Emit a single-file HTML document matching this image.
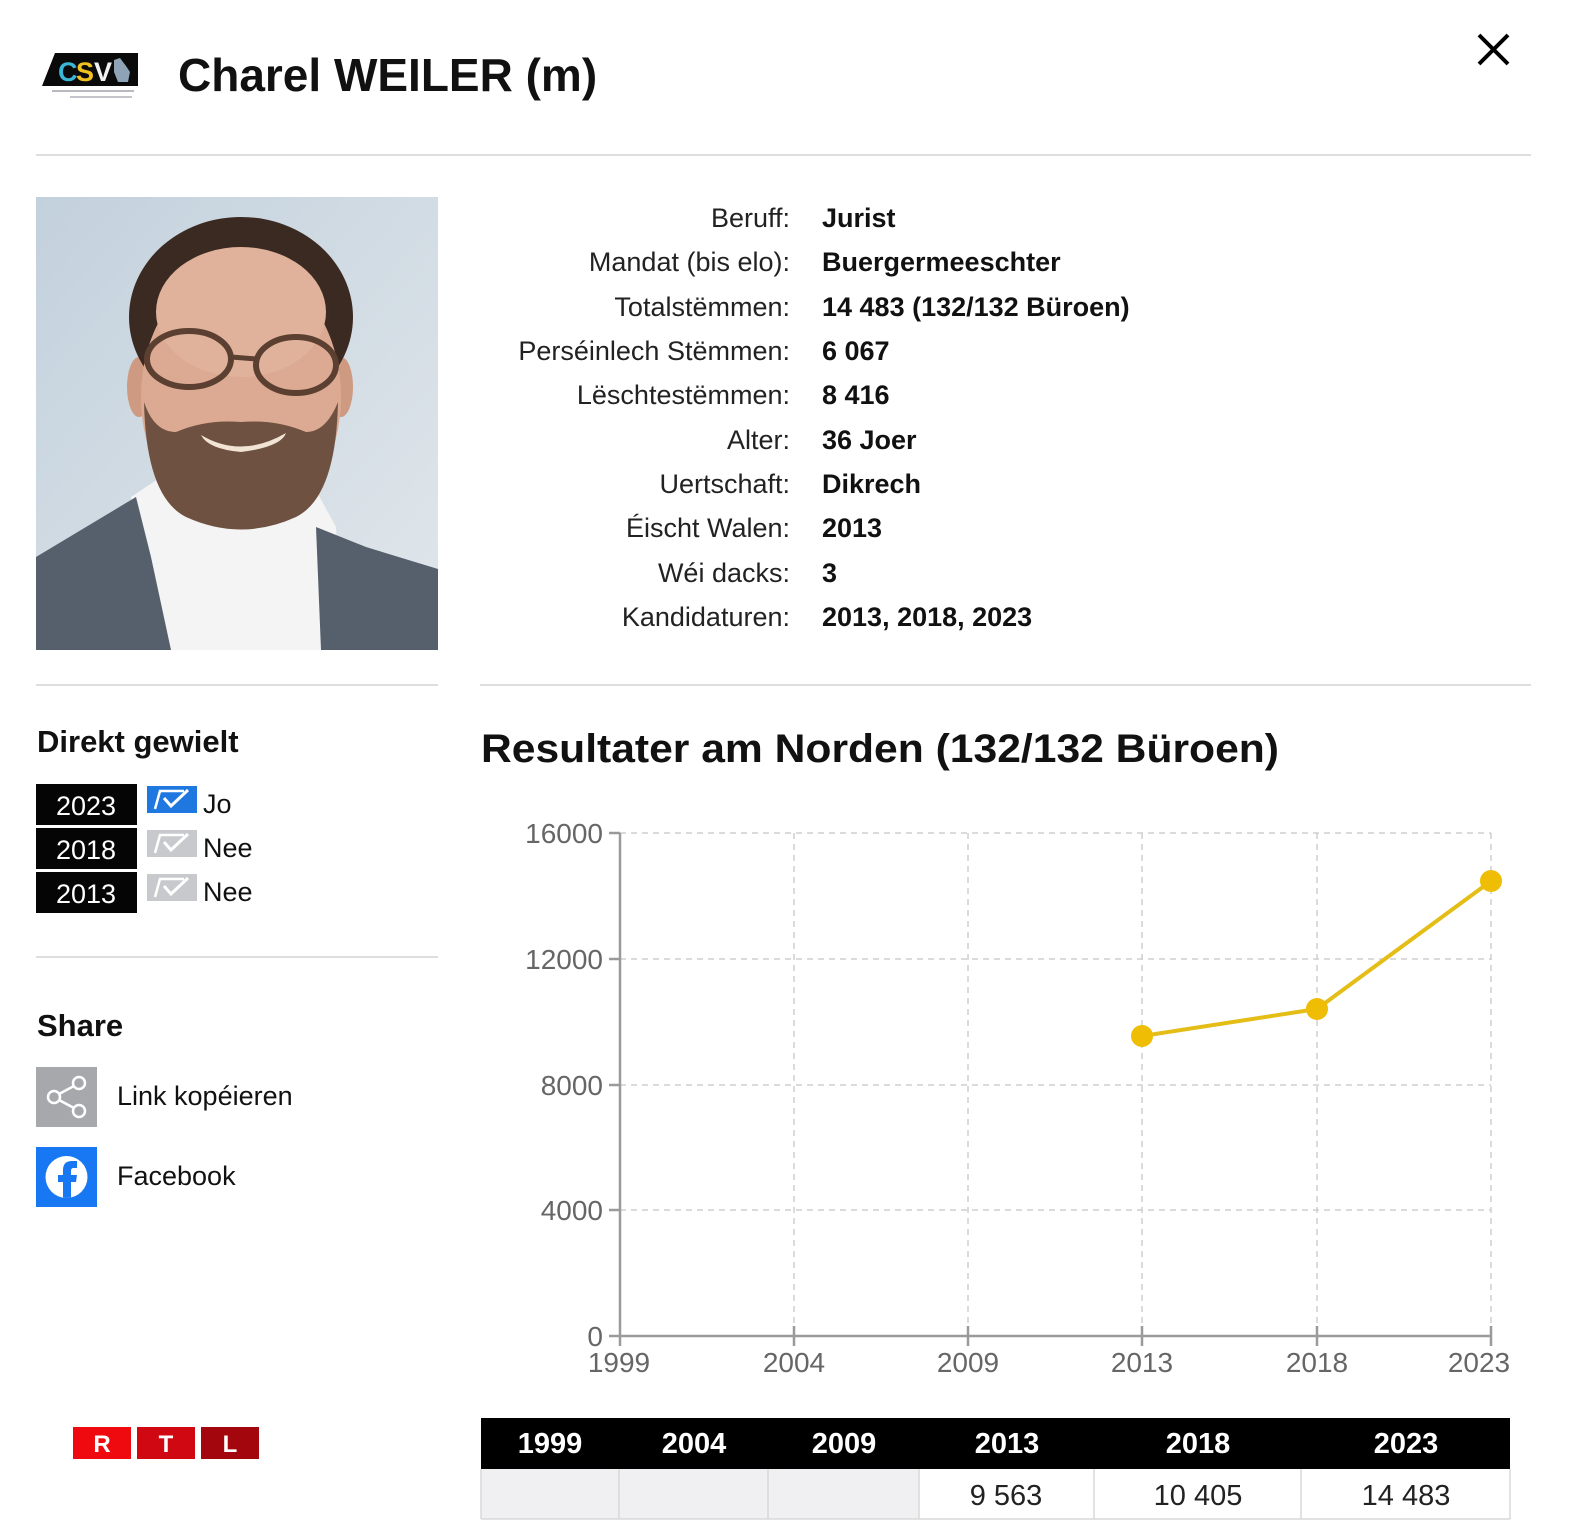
<!DOCTYPE html>
<html>
<head>
<meta charset="utf-8">
<style>
html,body{margin:0;padding:0;background:#fff;}
body{width:1572px;height:1536px;overflow:hidden;position:relative;font-family:"Liberation Sans",Arial,sans-serif;}
svg{position:absolute;left:0;top:0;}
</style>
</head>
<body>
<svg width="1572" height="1536" viewBox="0 0 1572 1536" xmlns="http://www.w3.org/2000/svg" font-family="Liberation Sans, Arial, sans-serif">
  <defs>
    <linearGradient id="bg" x1="0" y1="0" x2="1" y2="1">
      <stop offset="0" stop-color="#c3d1dd"/>
      <stop offset="1" stop-color="#e1e7eb"/>
    </linearGradient>
    <clipPath id="ph"><rect x="0" y="0" width="402" height="453"/></clipPath>
    <clipPath id="fbc"><circle cx="66.5" cy="1177" r="21"/></clipPath>
  </defs>

  <!-- CSV logo -->
  <polygon points="55,53 138,53 138,86 42,86" fill="#0a0a0a"/>
  <text x="58" y="81" font-size="27" font-weight="bold" fill="#3bb6d6">C</text>
  <text x="76" y="81" font-size="27" font-weight="bold" fill="#f0c020">S</text>
  <text x="94" y="81" font-size="27" font-weight="bold" fill="#f2f2f2">V</text>
  <path d="M114,60 L120,58 L126,66 L130,72 L128,82 L118,82 L114,72 Z" fill="#8ea3b5"/>
  <rect x="52" y="90" width="82" height="2" fill="#b8b8c0"/>
  <rect x="70" y="96" width="62" height="2" fill="#c4c4cc"/>

  <!-- Title -->
  <text x="178" y="91" font-size="46" font-weight="bold" fill="#111">Charel WEILER (m)</text>

  <!-- Close -->
  <line x1="1479" y1="35" x2="1508" y2="64" stroke="#000" stroke-width="4"/>
  <line x1="1508" y1="35" x2="1479" y2="64" stroke="#000" stroke-width="4"/>

  <!-- separator -->
  <rect x="36" y="154" width="1495" height="2" fill="#dedede"/>

  <!-- Photo -->
  <g transform="translate(36,197)" clip-path="url(#ph)">
    <rect x="0" y="0" width="402" height="453" fill="url(#bg)"/>
    <rect x="140" y="250" width="130" height="90" fill="#c9907a"/>
    <polygon points="95,300 140,270 205,330 270,275 300,330 305,453 110,453" fill="#f4f4f4"/>
    <polygon points="0,360 50,330 100,300 115,360 135,453 0,453" fill="#56606c"/>
    <polygon points="280,330 330,350 402,372 402,453 285,453" fill="#56606c"/>
    <ellipse cx="103" cy="190" rx="12" ry="30" fill="#cf9a82"/>
    <ellipse cx="305" cy="190" rx="12" ry="30" fill="#cf9a82"/>
    <ellipse cx="205" cy="120" rx="112" ry="100" fill="#3b2a22"/>
    <ellipse cx="205" cy="200" rx="100" ry="132" fill="#dcaa92"/>
    <ellipse cx="205" cy="115" rx="85" ry="65" fill="#e0b29b"/>
    <path d="M108,205 Q110,300 150,320 Q205,345 260,320 Q300,300 302,205 Q290,235 270,235 Q240,222 205,225 Q170,222 140,235 Q118,235 108,205 Z" fill="#6e5141"/>
    <path d="M165,238 Q205,262 250,236 Q245,250 205,255 Q172,252 165,238 Z" fill="#f1e4d4"/>
    <ellipse cx="153" cy="162" rx="42" ry="28" fill="none" stroke="#5b3f30" stroke-width="6"/>
    <ellipse cx="260" cy="168" rx="40" ry="28" fill="none" stroke="#5b3f30" stroke-width="6"/>
    <line x1="195" y1="160" x2="220" y2="162" stroke="#5b3f30" stroke-width="5"/>
  </g>

  <!-- Info labels -->
  <g font-size="27" fill="#222" text-anchor="end">
    <text x="790" y="227">Beruff:</text>
    <text x="790" y="271">Mandat (bis elo):</text>
    <text x="790" y="316">Totalstëmmen:</text>
    <text x="790" y="360">Perséinlech Stëmmen:</text>
    <text x="790" y="404">Lëschtestëmmen:</text>
    <text x="790" y="449">Alter:</text>
    <text x="790" y="493">Uertschaft:</text>
    <text x="790" y="537">Éischt Walen:</text>
    <text x="790" y="582">Wéi dacks:</text>
    <text x="790" y="626">Kandidaturen:</text>
  </g>
  <g font-size="27" font-weight="bold" fill="#111">
    <text x="822" y="227">Jurist</text>
    <text x="822" y="271">Buergermeeschter</text>
    <text x="822" y="316">14 483 (132/132 Büroen)</text>
    <text x="822" y="360">6 067</text>
    <text x="822" y="404">8 416</text>
    <text x="822" y="449">36 Joer</text>
    <text x="822" y="493">Dikrech</text>
    <text x="822" y="537">2013</text>
    <text x="822" y="582">3</text>
    <text x="822" y="626">2013, 2018, 2023</text>
  </g>

  <!-- separators -->
  <rect x="36" y="684" width="402" height="2" fill="#dedede"/>
  <rect x="480" y="684" width="1051" height="2" fill="#dedede"/>

  <!-- Direkt gewielt -->
  <text x="37" y="752" font-size="31" font-weight="bold" fill="#111">Direkt gewielt</text>
  <rect x="36" y="784" width="101" height="41" fill="#050505"/>
  <rect x="36" y="828" width="101" height="41" fill="#050505"/>
  <rect x="36" y="872" width="101" height="41" fill="#050505"/>
  <g font-size="27" fill="#fff" text-anchor="middle">
    <text x="86" y="815">2023</text>
    <text x="86" y="859">2018</text>
    <text x="86" y="903">2013</text>
  </g>
  <g>
    <rect x="147" y="786" width="50" height="27" fill="#1f78e0"/>
    <path d="M155,809 L160,791 L184,791" fill="none" stroke="#fff" stroke-width="2.5"/>
    <path d="M164,798 L171,806 L188,790" fill="none" stroke="#fff" stroke-width="3"/>
    <rect x="147" y="830" width="50" height="27" fill="#c8c9cc"/>
    <path d="M155,853 L160,835 L184,835" fill="none" stroke="#fff" stroke-width="2.5"/>
    <path d="M164,842 L171,850 L188,834" fill="none" stroke="#fff" stroke-width="3"/>
    <rect x="147" y="874" width="50" height="27" fill="#c8c9cc"/>
    <path d="M155,897 L160,879 L184,879" fill="none" stroke="#fff" stroke-width="2.5"/>
    <path d="M164,886 L171,894 L188,878" fill="none" stroke="#fff" stroke-width="3"/>
  </g>
  <g font-size="27" fill="#111">
    <text x="203" y="813">Jo</text>
    <text x="203" y="857">Nee</text>
    <text x="203" y="901">Nee</text>
  </g>

  <rect x="36" y="956" width="402" height="2" fill="#dedede"/>

  <!-- Share -->
  <text x="37" y="1036" font-size="31" font-weight="bold" fill="#111">Share</text>
  <rect x="36" y="1067" width="61" height="60" fill="#a7a8ac"/>
  <g fill="none" stroke="#fff" stroke-width="2.5">
    <circle cx="54" cy="1097" r="6"/>
    <circle cx="79" cy="1083" r="6"/>
    <circle cx="79" cy="1111" r="6"/>
    <line x1="59" y1="1094" x2="74" y2="1086"/>
    <line x1="59" y1="1100" x2="74" y2="1108"/>
  </g>
  <text x="117" y="1105" font-size="27" fill="#111">Link kopéieren</text>
  <rect x="36" y="1147" width="61" height="60" fill="#1877f2"/>
  <circle cx="66.5" cy="1177" r="21" fill="#fff"/>
  <g clip-path="url(#fbc)" fill="#1877f2">
    <path d="M63,1200 L63,1182 L58,1182 L58,1175 L63,1175 L63,1170 Q63,1161 72,1161 L77,1161 L77,1168 L73,1168 Q71,1168 71,1171 L71,1175 L77,1175 L76,1182 L71,1182 L71,1200 Z"/>
  </g>
  <text x="117" y="1185" font-size="27" fill="#111">Facebook</text>

  <!-- RTL -->
  <rect x="73" y="1427" width="58" height="32" fill="#ee0a0f"/>
  <rect x="137" y="1427" width="58" height="32" fill="#cf0812"/>
  <rect x="201" y="1427" width="58" height="32" fill="#a4060e"/>
  <g font-size="24" font-weight="bold" fill="#fff" text-anchor="middle">
    <text x="102" y="1452">R</text>
    <text x="166" y="1452">T</text>
    <text x="230" y="1452">L</text>
  </g>

  <!-- Chart title -->
  <text x="481" y="762" font-size="40" font-weight="bold" fill="#111" textLength="798" lengthAdjust="spacingAndGlyphs">Resultater am Norden (132/132 Büroen)</text>

  <!-- Grid -->
  <g stroke="#cfcfcf" stroke-width="1.5" stroke-dasharray="6,5">
    <line x1="620" y1="833" x2="1491" y2="833"/>
    <line x1="620" y1="959" x2="1491" y2="959"/>
    <line x1="620" y1="1085" x2="1491" y2="1085"/>
    <line x1="620" y1="1210" x2="1491" y2="1210"/>
    <line x1="794" y1="833" x2="794" y2="1336"/>
    <line x1="968" y1="833" x2="968" y2="1336"/>
    <line x1="1142" y1="833" x2="1142" y2="1336"/>
    <line x1="1317" y1="833" x2="1317" y2="1336"/>
    <line x1="1491" y1="833" x2="1491" y2="1336"/>
  </g>
  <g stroke="#9a9a9a" stroke-width="2.5">
    <line x1="620" y1="833" x2="620" y2="1337"/>
    <line x1="619" y1="1336" x2="1492" y2="1336"/>
    <line x1="609" y1="833" x2="620" y2="833"/>
    <line x1="609" y1="959" x2="620" y2="959"/>
    <line x1="609" y1="1085" x2="620" y2="1085"/>
    <line x1="609" y1="1210" x2="620" y2="1210"/>
    <line x1="609" y1="1336" x2="620" y2="1336"/>
    <line x1="620" y1="1336" x2="620" y2="1346"/>
    <line x1="794" y1="1326" x2="794" y2="1346"/>
    <line x1="968" y1="1326" x2="968" y2="1346"/>
    <line x1="1142" y1="1326" x2="1142" y2="1346"/>
    <line x1="1317" y1="1326" x2="1317" y2="1346"/>
    <line x1="1491" y1="1326" x2="1491" y2="1346"/>
  </g>
  <g font-size="28" fill="#666" text-anchor="end">
    <text x="603" y="843">16000</text>
    <text x="603" y="969">12000</text>
    <text x="603" y="1095">8000</text>
    <text x="603" y="1220">4000</text>
    <text x="603" y="1346">0</text>
  </g>
  <g font-size="28" fill="#666" text-anchor="middle">
    <text x="619" y="1372">1999</text>
    <text x="794" y="1372">2004</text>
    <text x="968" y="1372">2009</text>
    <text x="1142" y="1372">2013</text>
    <text x="1317" y="1372">2018</text>
    <text x="1479" y="1372">2023</text>
  </g>

  <!-- Series -->
  <polyline points="1142,1036 1317,1009 1491,881" fill="none" stroke="#e4bd16" stroke-width="4"/>
  <circle cx="1142" cy="1036" r="11" fill="#eebd04"/>
  <circle cx="1317" cy="1009" r="11" fill="#eebd04"/>
  <circle cx="1491" cy="881" r="11" fill="#eebd04"/>

  <!-- Table -->
  <rect x="481" y="1418" width="1029" height="51" fill="#000"/>
  <rect x="481" y="1469" width="438" height="50" fill="#f0f0f2"/>
  <rect x="919" y="1469" width="591" height="50" fill="#fff"/>
  <g stroke="#d8d8d8" stroke-width="1.5">
    <line x1="481" y1="1519" x2="1510" y2="1519"/>
    <line x1="481" y1="1469" x2="481" y2="1519"/>
    <line x1="619" y1="1469" x2="619" y2="1519"/>
    <line x1="768" y1="1469" x2="768" y2="1519"/>
    <line x1="919" y1="1469" x2="919" y2="1519"/>
    <line x1="1094" y1="1469" x2="1094" y2="1519"/>
    <line x1="1301" y1="1469" x2="1301" y2="1519"/>
    <line x1="1510" y1="1469" x2="1510" y2="1519"/>
  </g>
  <g font-size="29" font-weight="bold" fill="#fff" text-anchor="middle">
    <text x="550" y="1453">1999</text>
    <text x="694" y="1453">2004</text>
    <text x="844" y="1453">2009</text>
    <text x="1007" y="1453">2013</text>
    <text x="1198" y="1453">2018</text>
    <text x="1406" y="1453">2023</text>
  </g>
  <g font-size="29" fill="#222" text-anchor="middle">
    <text x="1006" y="1505">9 563</text>
    <text x="1198" y="1505">10 405</text>
    <text x="1406" y="1505">14 483</text>
  </g>
</svg>
</body>
</html>
